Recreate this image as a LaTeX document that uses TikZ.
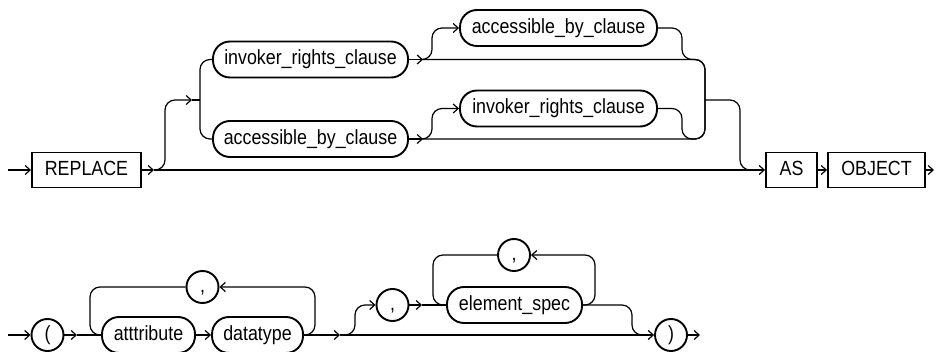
\documentclass[tikz,border=0pt]{standalone}
\usepackage{fontspec}
\setmainfont{Liberation Sans}[FakeStretch=0.87]
\usetikzlibrary{arrows.meta}

\begin{document}
\begin{tikzpicture}[x=1pt,y=-1pt,>={Straight Barb[length=5pt,width=9pt]},line width=1.2pt,
  kwbox/.style={draw,line width=1.9pt,minimum height=35pt,inner xsep=0pt,text height=15pt,text depth=4pt,font=\fontsize{20.5}{24}\selectfont},
  pill/.style={kwbox,rounded corners=17pt,minimum height=36pt},
  sym/.style={draw,circle,line width=1.9pt,minimum size=32pt,inner sep=0pt,text height=15pt,text depth=4pt,font=\fontsize{20.5}{24}\selectfont}]
\useasboundingbox (0,0) rectangle (936,352);
% first line: REPLACE ... AS OBJECT
\node[kwbox,minimum width=109pt] (replace) at (86.5,170) {REPLACE};
\node[pill,minimum width=195pt] (invkr) at (310.5,59.5) {invoker\_rights\_clause};
\node[pill,minimum width=195pt] (accby) at (310.5,139) {accessible\_by\_clause};
\node[pill,minimum width=197pt] (accbyopt) at (558.5,28) {accessible\_by\_clause};
\node[pill,minimum width=197pt] (invkropt) at (558.5,108.5) {invoker\_rights\_clause};
\node[kwbox,minimum width=51pt] (as) at (791.5,170) {AS};
\node[kwbox,minimum width=97pt] (object) at (876.5,170) {OBJECT};
\coordinate (start1) at (8,170);
\coordinate (r1) at (154,170);
\coordinate (b1) at (192,100);
\coordinate (i1) at (423,59.5);
\coordinate (a1) at (423,139);
\coordinate (j1) at (705,100);
\coordinate (out1) at (934,170);
\draw[->] (start1) -- (replace);
\draw[->] (replace) -- (r1);
\draw[->] (r1) -- (as);
\draw[->,rounded corners=10pt] (r1) -| (165,100) -- (b1);
\draw (b1) -- (200,100);
\draw[rounded corners=10pt] (invkr.west) -| (200,100) |- (accby.west);
\draw[->] (invkr) -- (i1);
\draw[->] (accby) -- (a1);
\draw[->,rounded corners=10pt] (i1) -| (432,28) -- (accbyopt.west);
\draw[->,rounded corners=10pt] (a1) -| (432,108.5) -- (invkropt.west);
\draw[rounded corners=10pt] (i1) -| (j1);
\draw[rounded corners=10pt] (a1) -| (j1);
\draw[rounded corners=10pt] (accbyopt.east) -| (682,59.5) -| (j1);
\draw[rounded corners=10pt] (invkropt.east) -| (682,139) -| (j1);
\draw[rounded corners=10pt] (j1) -| (740,170) -- (755,170);
\draw[->] (as) -- (object);
\draw[->] (object) -- (out1);
% second line: ( attribute datatype , element_spec )
\node[sym] (lpar) at (47.5,335) {(};
\node[pill,minimum width=93pt] (attr) at (148.5,335) {atttribute};
\node[pill,minimum width=91pt] (dtype) at (257.5,335) {datatype};
\node[sym] (commaA) at (202.5,287) {,};
\node[sym] (commaB) at (392.5,305) {,};
\node[pill,minimum width=135pt] (elem) at (514.5,305) {element\_spec};
\node[sym] (commaC) at (514,255) {,};
\node[sym] (rpar) at (671,335) {)};
\coordinate (start2) at (8,335);
\coordinate (p1) at (77,335);
\coordinate (d1) at (340,335);
\coordinate (c1) at (422,305);
\coordinate (out2) at (700,335);
\draw[->] (start2) -- (lpar);
\draw[->] (lpar) -- (p1);
\draw (p1) -- (attr);
\draw[->] (attr) -- (dtype);
\draw[->,rounded corners=10pt] (dtype.east) -| (315,287) -- (commaA.east);
\draw[rounded corners=10pt] (commaA.west) -| (90,335) -- (attr.west);
\draw[->] (dtype) -- (d1);
\draw[->] (d1) -- (rpar);
\draw[->,rounded corners=10pt] (d1) -| (355,305) -- (commaB.west);
\draw[->] (commaB) -- (c1);
\draw (c1) -- (elem);
\draw[->,rounded corners=10pt] (elem.east) -| (595,255) -- (commaC.east);
\draw[rounded corners=10pt] (commaC.west) -| (433,305) -- (elem.west);
\draw[rounded corners=10pt] (elem.east) -| (632,335) -- (645,335);
\draw[->] (rpar) -- (out2);
\end{tikzpicture}
\end{document}
